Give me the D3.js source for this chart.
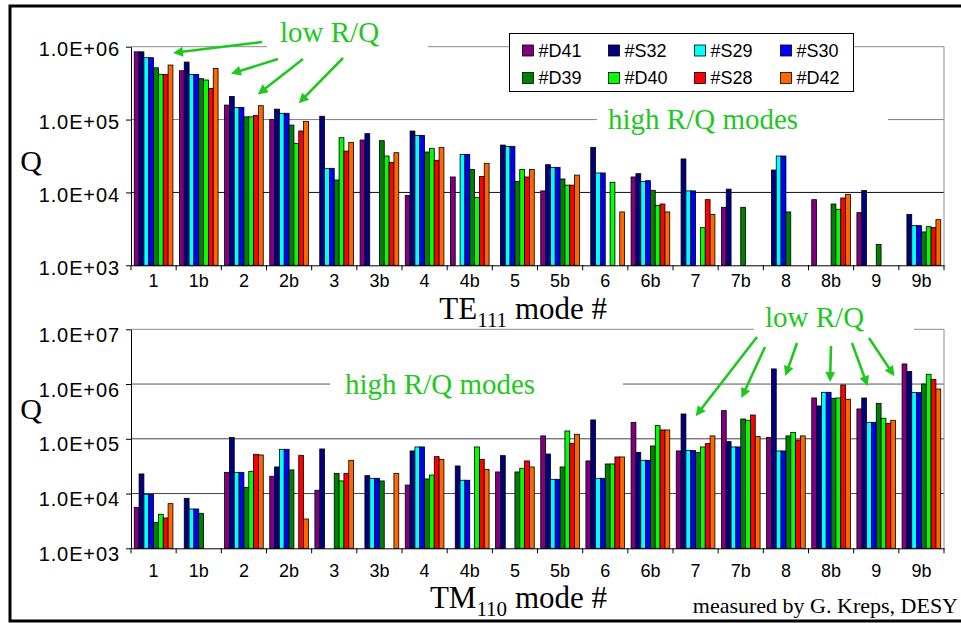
<!DOCTYPE html>
<html>
<head>
<meta charset="utf-8">
<script src="https://cdn.jsdelivr.net/npm/d3@7"></script>
<style>
  body { margin: 0; background: #fff; }
  svg { display: block; }
</style>
</head>
<body>
<svg id="chart" width="961" height="623"></svg>
<script>
// ---- data ----
const categories = ["1","1b","2","2b","3","3b","4","4b","5","5b","6","6b","7","7b","8","8b","9","9b"];
const seriesNames = ["#D41","#S32","#S29","#S30","#D39","#D40","#S28","#D42"];
const seriesColors = ["#800080","#000080","#00ffff","#0000ff","#008000","#00ff00","#ff0000","#ff6600"];

// TE111 modes: Q per cavity (null = not measured)
const teD41 = [8.5e5,4.68e5,1.58e5,1.0e5,null,5.24e4,9.1e3,1.63e4,null,1.05e4,null,1.63e4,null,6.25e3,null,7.96e3,5.28e3,null];
const teS32 = [8.5e5,6.15e5,2.08e5,1.39e5,1.11e5,6.4e4,6.96e4,null,4.47e4,2.4e4,4.16e4,1.81e4,2.88e4,1.11e4,2.03e4,null,1.06e4,5.0e3];
const teS29 = [7.06e5,4.17e5,1.47e5,1.22e5,2.14e4,null,6.07e4,3.33e4,4.29e4,2.21e4,1.85e4,1.41e4,1.05e4,null,3.16e4,null,null,3.5e3];
const teS30 = [7.06e5,4.17e5,1.47e5,1.22e5,2.14e4,null,6.07e4,3.33e4,4.29e4,2.21e4,1.85e4,1.45e4,1.05e4,null,3.16e4,null,null,3.5e3];
const teD39 = [5.14e5,3.64e5,1.09e5,8.4e4,1.48e4,5.13e4,3.59e4,2.07e4,1.42e4,1.53e4,null,1.07e4,null,6.25e3,5.4e3,6.94e3,1.94e3,2.87e3];
const teD40 = [4.17e5,3.49e5,1.09e5,4.72e4,5.64e4,3.16e4,4.03e4,8.5e3,2.07e4,1.26e4,1.38e4,6.65e3,3.29e3,null,null,5.87e3,null,3.39e3];
const teS28 = [4.17e5,2.68e5,1.14e5,6.97e4,3.7e4,2.59e4,2.76e4,1.66e4,1.63e4,1.26e4,null,6.94e3,7.96e3,null,null,8.39e3,null,3.29e3];
const teD42 = [5.6e5,5.04e5,1.55e5,9.45e4,4.87e4,3.51e4,4.16e4,2.51e4,2.07e4,1.73e4,5.4e3,5.4e3,5.0e3,null,null,9.42e3,null,4.23e3];

// TM110 modes
const tmD41 = [5.61e3,null,2.44e4,2.07e4,1.15e4,null,1.43e4,null,2.48e4,1.13e5,3.94e4,2.0e5,6.0e4,3.27e5,1.06e5,5.57e5,3.51e5,2.33e6];
const tmS32 = [2.28e4,8.19e3,1.06e5,3.06e4,6.52e4,2.12e4,6.0e4,3.19e4,4.93e4,5.28e4,2.21e5,5.67e4,2.84e5,8.88e4,1.89e6,3.98e5,5.57e5,1.69e6];
const tmS29 = [9.7e3,5.23e3,2.44e4,6.43e4,null,1.9e4,7.1e4,1.75e4,null,1.82e4,1.9e4,4.05e4,6.1e4,7.1e4,6.0e4,7.07e5,2.0e5,6.97e5];
const tmS30 = [9.7e3,5.23e3,2.44e4,6.43e4,null,1.9e4,7.1e4,1.75e4,null,1.82e4,1.9e4,4.05e4,6.1e4,7.1e4,6.0e4,7.07e5,2.0e5,6.97e5];
const tmD39 = [2.98e3,4.36e3,1.3e4,2.7e4,2.34e4,1.7e4,1.85e4,null,2.48e4,3.06e4,3.47e4,7.4e4,5.67e4,2.3e5,1.13e5,5.5e5,4.45e5,1.0e6];
const tmD40 = [4.18e3,null,2.55e4,null,1.7e4,null,2.18e4,7.1e4,2.89e4,1.39e5,3.47e4,1.74e5,7.1e4,2.18e5,1.31e5,5.57e5,2.37e5,1.51e6];
const tmS28 = [3.58e3,null,5.21e4,5.0e4,2.34e4,null,4.72e4,4.22e4,3.94e4,8.28e4,4.66e4,1.45e5,8.16e4,2.72e5,9.5e4,9.62e5,1.92e5,1.22e6];
const tmD42 = [6.54e3,null,5.07e4,3.43e3,4.05e4,2.34e4,4.22e4,2.74e4,3.06e4,1.21e5,4.66e4,1.45e5,1.13e5,1.1e5,1.13e5,5.27e5,2.18e5,8.13e5];

const teTicks = [1e3, 1e4, 1e5, 1e6];
const teTickLabels = ["1.0E+03","1.0E+04","1.0E+05","1.0E+06"];
const tmTicks = [1e3, 1e4, 1e5, 1e6, 1e7];
const tmTickLabels = ["1.0E+03","1.0E+04","1.0E+05","1.0E+06","1.0E+07"];

// ---- layout ----
const svg = d3.select("#chart");
const SANS = "'Liberation Sans', Arial, Helvetica, sans-serif";
const SERIF = "'Liberation Serif', 'Times New Roman', Times, serif";
const GREEN = "#1fc81f";
const plotLeft = 131, plotRight = 944;

const x0 = d3.scaleBand().domain(categories).range([plotLeft, plotRight]).padding(0);
const x1 = d3.scaleBand().domain(seriesNames).range([0, x0.bandwidth()])
  .paddingInner(0).paddingOuter(0.67);

const panels = [
  {
    series: [teD41, teS32, teS29, teS30, teD39, teD40, teS28, teD42],
    y: d3.scaleLog().domain([1e3, 1e6]).range([265.3, 46.7]),
    ticks: teTicks, tickLabels: teTickLabels,
    gridColors: { 1e4: "#111", 1e5: "#808080", 1e6: "#8c8c8c" },
    labelShift: 2, catPad: 9,
    gaps: [[1e6, 267, 428], [1e5, 597, 888]]
  },
  {
    series: [tmD41, tmS32, tmS29, tmS30, tmD39, tmD40, tmS28, tmD42],
    y: d3.scaleLog().domain([1e3, 1e7]).range([548.3, 329.3]),
    ticks: tmTicks, tickLabels: tmTickLabels,
    gridColors: { 1e4: "#444", 1e5: "#444", 1e6: "#555", 1e7: "#8c8c8c" },
    labelShift: 5, catPad: 16,
    gaps: [[1e7, 754, 914], [1e6, 330, 623]]
  }
];

panels.forEach(p => {
  const g = svg.append("g");
  const y = p.y;
  const [yBottom, yTop] = y.range();

  // gridlines (the topmost one is the plot-area border)
  g.append("g").selectAll("line")
    .data(p.ticks.filter(t => t > p.ticks[0]))
    .join("line")
    .attr("x1", plotLeft).attr("x2", plotRight)
    .attr("y1", d => y(d)).attr("y2", d => y(d))
    .attr("stroke", d => p.gridColors[d]).attr("stroke-width", 1);

  // right border of the plot area
  g.append("line")
    .attr("x1", plotRight).attr("x2", plotRight)
    .attr("y1", yTop).attr("y2", yBottom)
    .attr("stroke", "#8c8c8c").attr("stroke-width", 1);

  // white knock-outs behind the annotation texts
  g.append("g").selectAll("rect")
    .data(p.gaps)
    .join("rect")
    .attr("x", d => d[1]).attr("width", d => d[2] - d[1])
    .attr("y", d => y(d[0]) - 2).attr("height", 4)
    .attr("fill", "#fff");

  // bars
  const groups = g.append("g").selectAll("g")
    .data(categories)
    .join("g")
    .attr("transform", c => `translate(${x0(c)},0)`);

  groups.selectAll("rect")
    .data((c, ci) => seriesNames.map((s, si) => ({ s, si, v: p.series[si][ci] })).filter(d => d.v != null))
    .join("rect")
    .attr("x", d => x1(d.s))
    .attr("width", x1.bandwidth())
    .attr("y", d => y(d.v))
    .attr("height", d => yBottom - y(d.v))
    .attr("fill", d => seriesColors[d.si])
    .attr("stroke", "#000")
    .attr("stroke-width", 0.8);

  // y axis
  const yAxis = d3.axisLeft(y)
    .tickValues(p.ticks)
    .tickFormat((d, i) => p.tickLabels[i])
    .tickSize(5).tickSizeOuter(0).tickPadding(6);
  const ya = g.append("g").attr("transform", `translate(${plotLeft},0)`).call(yAxis);
  ya.select(".domain").attr("stroke", "#000");
  ya.selectAll(".tick line").attr("stroke", "#000");
  ya.selectAll("text")
    .attr("font-family", SANS).attr("font-size", 20)
    .attr("letter-spacing", "0.9px")
    .attr("fill", "#000")
    .attr("dy", null)
    .attr("y", 7 + p.labelShift);

  // x axis: labels centred on categories, ticks at category boundaries
  const xAxis = d3.axisBottom(x0).tickSize(0).tickSizeOuter(0).tickPadding(p.catPad);
  const xa = g.append("g").attr("transform", `translate(0,${yBottom})`).call(xAxis);
  xa.select(".domain").attr("stroke", "#000");
  xa.selectAll("text").attr("font-family", SANS).attr("font-size", 18).attr("fill", "#000");
  const bounds = categories.map(c => x0(c)).concat([plotRight]);
  xa.append("g").selectAll("line")
    .data(bounds).join("line")
    .attr("x1", d => d).attr("x2", d => d)
    .attr("y1", 0).attr("y2", 5)
    .attr("stroke", "#000");
});

// ---- legend ----
const legend = svg.append("g");
legend.append("rect")
  .attr("x", 509.5).attr("y", 33.5).attr("width", 344).attr("height", 58)
  .attr("fill", "#fff").attr("stroke", "#000").attr("stroke-width", 1);
const legItems = legend.selectAll("g.item")
  .data(seriesNames)
  .join("g").attr("class", "item")
  .attr("transform", (d, i) => `translate(${522.5 + (i % 4) * 86},${i < 4 ? 45 : 72.5})`);
legItems.append("rect")
  .attr("width", 11).attr("height", 11)
  .attr("fill", (d, i) => seriesColors[i])
  .attr("stroke", "#000").attr("stroke-width", 0.8);
legItems.append("text")
  .attr("x", 16).attr("y", 11.5)
  .attr("font-family", SANS).attr("font-size", 18).attr("fill", "#000")
  .text(d => d);

// ---- titles and axis names ----
svg.append("text").attr("x", 31).attr("y", 171).attr("text-anchor", "middle")
  .attr("font-family", SERIF).attr("font-size", 30).text("Q");
svg.append("text").attr("x", 31).attr("y", 419).attr("text-anchor", "middle")
  .attr("font-family", SERIF).attr("font-size", 30).text("Q");

function modeTitle(x, yBase, main, sub) {
  const t = svg.append("text").attr("x", x).attr("y", yBase).attr("text-anchor", "end")
    .attr("font-family", SERIF).attr("font-size", 31).attr("fill", "#000");
  t.append("tspan").text(main);
  t.append("tspan").attr("font-size", 21).attr("dy", 8).text(sub);
  t.append("tspan").attr("dy", -8).text(" mode #");
}
modeTitle(607, 319, "TE", "111");
modeTitle(607, 608, "TM", "110");

svg.append("text").attr("x", 958).attr("y", 613).attr("text-anchor", "end")
  .attr("font-family", SERIF).attr("font-size", 22).attr("fill", "#000")
  .text("measured by G. Kreps, DESY");

// ---- annotations ----
const notes = [
  { text: "low R/Q", x: 280, y: 42 },
  { text: "high R/Q modes", x: 608, y: 129 },
  { text: "low R/Q", x: 765, y: 327 },
  { text: "high R/Q modes", x: 345, y: 394 }
];
svg.append("g").selectAll("text").data(notes).join("text")
  .attr("x", d => d.x).attr("y", d => d.y)
  .attr("font-family", SERIF).attr("font-size", 29).attr("fill", GREEN)
  .text(d => d.text);

const defs = svg.append("defs");
defs.append("marker")
  .attr("id", "arrowHead").attr("viewBox", "0 0 10 10")
  .attr("refX", 5).attr("refY", 5)
  .attr("markerWidth", 12).attr("markerHeight", 10)
  .attr("markerUnits", "userSpaceOnUse").attr("orient", "auto")
  .append("path").attr("d", "M0,0 L10,5 L0,10 z").attr("fill", GREEN);

const arrows = [
  [262, 42, 172, 53], [278, 59, 230, 74], [303, 59, 257, 95], [343, 58, 298, 104],
  [757, 337, 695, 417], [765, 347, 741, 399], [797, 343, 785, 377],
  [831, 346, 830, 383], [852, 343, 868, 387], [869, 338, 895, 377]
];
svg.append("g").selectAll("line").data(arrows).join("line")
  .each(function (a) {
    // stop the shaft short of the tip so the head covers its end
    const dx = a[2] - a[0], dy = a[3] - a[1], len = Math.hypot(dx, dy);
    const k = (len - 6) / len;
    d3.select(this)
      .attr("x1", a[0]).attr("y1", a[1])
      .attr("x2", a[0] + dx * k).attr("y2", a[1] + dy * k);
  })
  .attr("stroke", GREEN).attr("stroke-width", 2.6)
  .attr("marker-end", "url(#arrowHead)");

// ---- outer frame ----
svg.append("path")
  .attr("d", "M961,6 L10,6 L10,621 L961,621")
  .attr("fill", "none").attr("stroke", "#000").attr("stroke-width", 3);
</script>
</body>
</html>
